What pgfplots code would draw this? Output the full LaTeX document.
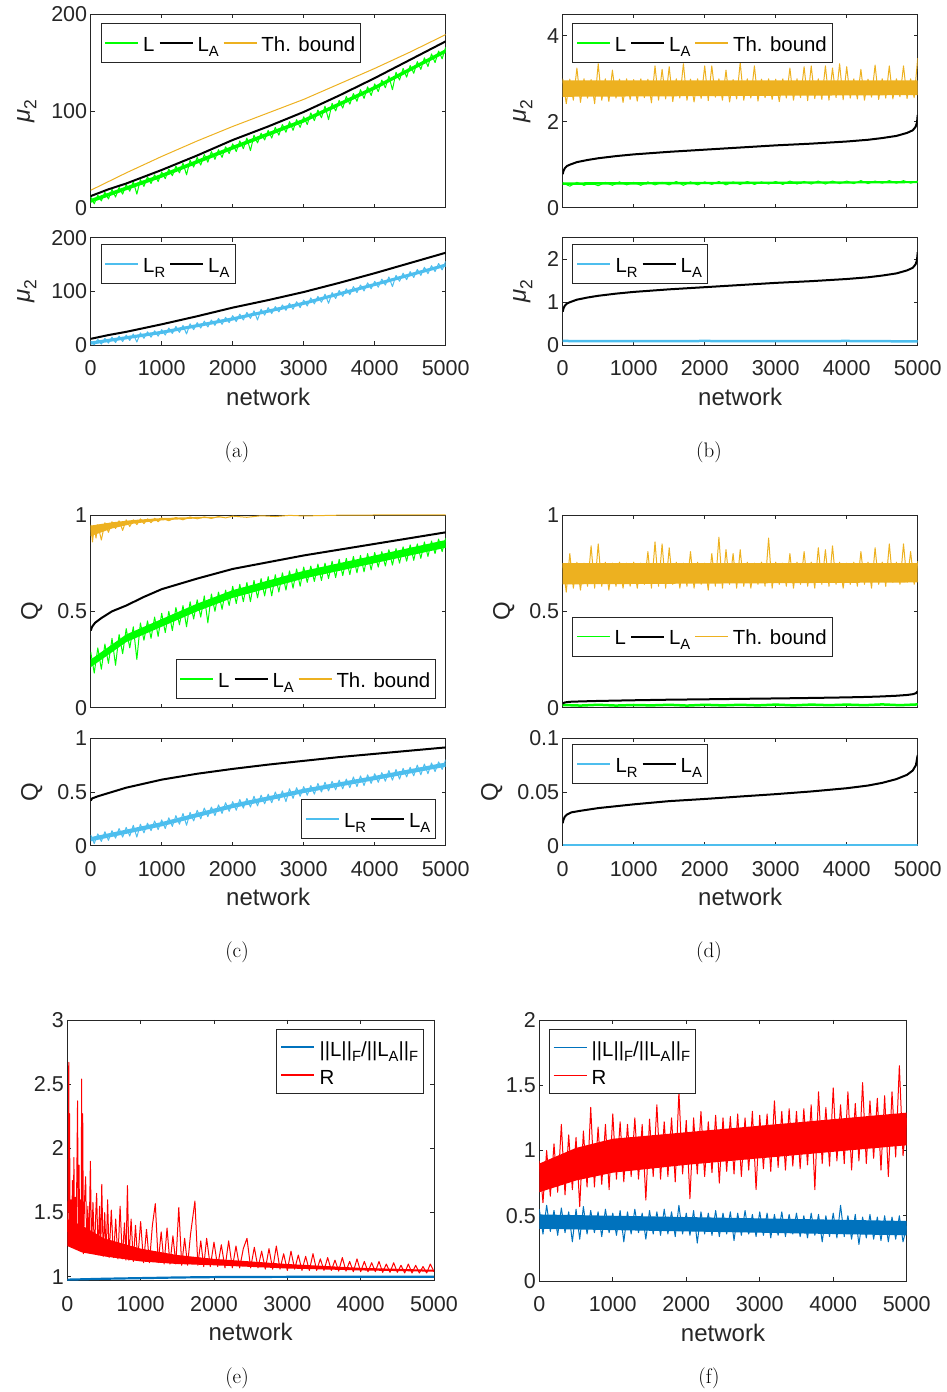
\documentclass[border=0pt]{standalone}
\usepackage{fontspec}
\newfontfamily\arial{Liberation Sans}
\usepackage{pgfplots}
\pgfplotsset{compat=1.18}
\definecolor{mgray}{rgb}{0.15,0.15,0.15}
\definecolor{mgreen}{rgb}{0,1,0}
\definecolor{morange}{rgb}{0.929,0.694,0.125}
\definecolor{mlblue}{rgb}{0.302,0.745,0.933}
\definecolor{mblue}{rgb}{0,0.447,0.741}
\definecolor{mred}{rgb}{1,0,0}
% MATLAB-like lowered subscripts
\newcommand{\lsub}[1]{\raisebox{-5.5pt}{\fontsize{14.8}{16}\selectfont #1}}
\newcommand{\ysub}[1]{\raisebox{-6.5pt}{\fontsize{17.5}{19}\selectfont #1}}
\pgfplotsset{
  mat/.style={
    scale only axis, xmin=0, xmax=5000,
    axis line style={draw=mgray, line width=0.7pt},
    every tick/.style={draw=mgray, line width=0.7pt},
    major tick length=4pt, tick align=inside,
    xtick={0,1000,2000,3000,4000,5000},
    xticklabels={},
    /pgf/number format/assume math mode=true,
    ticklabel style={font=\arial\fontsize{21.5}{24}\selectfont, text=mgray},
    xticklabel style={yshift=-12pt},
    label style={font=\arial\fontsize{24}{28}\selectfont, text=mgray},
    ylabel shift=8pt, xlabel shift=5pt,
    legend style={draw=mgray, line width=0.7pt, font=\arial\fontsize{20.4}{24}\selectfont, text=black,
      inner xsep=3.5pt, inner ysep=4.4pt, row sep=0pt,
      nodes={text height=21pt, text depth=5.2pt},
      /tikz/every odd column/.append style={column sep=2pt},
      /tikz/every even column/.append style={column sep=2pt}},
    legend cell align=left,
    legend image code/.code={\draw[#1] (0pt,0pt) -- (33pt,0pt);},
    every axis plot/.append style={line join=round},
  },
  thinline/.style={line width=1pt, legend image post style={line width=1.7pt}},
  xlab/.style={xticklabels={0,1000,2000,3000,4000,5000}, xlabel={network}},
  tworow/.style={legend columns=1, legend style={inner ysep=4pt, nodes={text height=21pt, text depth=3pt}}},
}
\begin{document}
\begin{tikzpicture}
\path (0pt,0pt) rectangle (946pt,1392pt);

% (a) top
\begin{axis}[mat, at={(90.7pt,1184.3pt)}, anchor=south west, width=355pt, height=193.4pt,
  ymin=0, ymax=200, ytick={0,100,200}, yticklabels={0,100,200},
  ylabel={\textit{μ}\ysub{2}}, legend columns=3,
  legend style={at={(0.028,0.953)}, anchor=north west}]
\addplot[forget plot, fill=mgreen, draw=none] coordinates {(0,5)(1000,31)(2000,60)(3000,88)(4000,122)(5000,160)(5000,164)(4000,126)(3000,92)(2000,64)(1000,35)(0,9)} -- cycle;
\addplot[draw=mgreen, thinline] coordinates {(0,11)(50,4)(100,13)(150,7)(200,16)(250,9)(300,19)(350,11)(400,21)(450,14)(500,24)(550,17)(600,27)(650,14)(700,29)(750,22)(800,32)(850,25)(900,34)(950,27)(1000,37)(1050,30)(1100,40)(1150,33)(1200,43)(1250,36)(1300,46)(1350,34)(1400,49)(1450,42)(1500,52)(1550,44)(1600,55)(1650,47)(1700,58)(1750,50)(1800,60)(1850,52)(1900,63)(1950,56)(2000,66)(2050,58)(2100,69)(2150,61)(2200,72)(2250,59)(2300,75)(2350,67)(2400,77)(2450,70)(2500,80)(2550,72)(2600,83)(2650,75)(2700,86)(2750,78)(2800,89)(2850,80)(2900,91)(2950,83)(3000,94)(3050,86)(3100,98)(3150,90)(3200,101)(3250,93)(3300,105)(3350,91)(3400,108)(3450,100)(3500,111)(3550,103)(3600,115)(3650,107)(3700,118)(3750,110)(3800,122)(3850,113)(3900,125)(3950,116)(4000,128)(4050,120)(4100,132)(4150,124)(4200,136)(4250,122)(4300,140)(4350,132)(4400,144)(4450,135)(4500,147)(4550,139)(4600,151)(4650,143)(4700,155)(4750,146)(4800,159)(4850,150)(4900,162)(4950,154)(5000,166)};
\addlegendentry{L}
\addplot[draw=black, line width=2pt] coordinates {(0,12)(250,19)(500,25)(1000,39)(1500,54)(2000,70)(2500,84)(3000,99)(3500,116)(4000,134)(4500,153)(5000,172)};
\addlegendentry{L\lsub{A}}
\addplot[draw=morange, thinline] coordinates {(0,18)(500,36)(1000,53)(1500,69)(2000,84)(2500,98)(3000,112)(3500,128)(4000,144)(4500,161)(5000,179)};
\addlegendentry{Th. bound}
\end{axis}

% (a) bottom
\begin{axis}[mat, xlab, at={(90.7pt,1046.7pt)}, anchor=south west, width=355pt, height=107.6pt,
  ymin=0, ymax=200, ytick={0,100,200}, yticklabels={0,100,200},
  ylabel={\textit{μ}\ysub{2}}, legend columns=3,
  legend style={at={(0.028,0.939)}, anchor=north west}]
\addplot[forget plot, fill=mlblue, draw=none] coordinates {(0,1)(1000,21)(2000,46)(3000,75)(4000,110)(5000,146)(5000,152)(4000,116)(3000,81)(2000,52)(1000,27)(0,7)} -- cycle;
\addplot[draw=mlblue, thinline] coordinates {(0,8)(50,1)(100,11)(150,2)(200,13)(250,4)(300,15)(350,5)(400,17)(450,7)(500,19)(550,9)(600,21)(650,6)(700,23)(750,13)(800,25)(850,15)(900,27)(950,17)(1000,29)(1050,19)(1100,32)(1150,22)(1200,35)(1250,24)(1300,37)(1350,21)(1400,40)(1450,29)(1500,42)(1550,32)(1600,45)(1650,34)(1700,47)(1750,37)(1800,50)(1850,39)(1900,52)(1950,42)(2000,55)(2050,44)(2100,58)(2150,47)(2200,61)(2250,50)(2300,64)(2350,47)(2400,67)(2450,56)(2500,70)(2550,59)(2600,72)(2650,62)(2700,75)(2750,65)(2800,78)(2850,67)(2900,81)(2950,70)(3000,84)(3050,73)(3100,88)(3150,77)(3200,91)(3250,80)(3300,95)(3350,78)(3400,98)(3450,87)(3500,102)(3550,91)(3600,105)(3650,94)(3700,109)(3750,98)(3800,112)(3850,101)(3900,116)(3950,105)(4000,119)(4050,108)(4100,123)(4150,112)(4200,127)(4250,109)(4300,130)(4350,119)(4400,134)(4450,122)(4500,137)(4550,126)(4600,141)(4650,130)(4700,145)(4750,133)(4800,148)(4850,137)(4900,152)(4950,140)(5000,156)};
\addlegendentry{L\lsub{R}}
\addplot[draw=black, line width=2pt] coordinates {(0,12)(250,19)(500,25)(1000,39)(1500,54)(2000,70)(2500,84)(3000,99)(3500,116)(4000,134)(4500,153)(5000,172)};
\addlegendentry{L\lsub{A}}
\end{axis}

% (b) top
\begin{axis}[mat, at={(562.7pt,1184.3pt)}, anchor=south west, width=355pt, height=193.4pt,
  ymin=0, ymax=4.5, ytick={0,2,4}, yticklabels={0,2,4},
  ylabel={\textit{μ}\ysub{2}}, legend columns=3,
  legend style={at={(0.027,0.953)}, anchor=north west}]
\addplot[forget plot, fill=morange, draw=none] coordinates {(0,2.58)(5000,2.62)(5000,2.96)(0,2.96)} -- cycle;
\addplot[forget plot, fill=mgreen, draw=none] coordinates {(0,0.53)(5000,0.57)(5000,0.62)(0,0.59)} -- cycle;
\addplot[draw=mgreen, thinline] coordinates {(0,0.58)(100,0.5)(200,0.59)(300,0.52)(400,0.58)(500,0.51)(600,0.59)(700,0.52)(800,0.6)(900,0.53)(1000,0.59)(1100,0.52)(1200,0.6)(1300,0.53)(1400,0.59)(1500,0.53)(1600,0.61)(1700,0.52)(1800,0.6)(1900,0.53)(2000,0.6)(2100,0.54)(2200,0.61)(2300,0.53)(2400,0.6)(2500,0.54)(2600,0.61)(2700,0.54)(2800,0.6)(2900,0.55)(3000,0.61)(3100,0.54)(3200,0.62)(3300,0.55)(3400,0.61)(3500,0.55)(3600,0.62)(3700,0.55)(3800,0.62)(3900,0.56)(4000,0.62)(4100,0.56)(4200,0.63)(4300,0.56)(4400,0.62)(4500,0.57)(4600,0.63)(4700,0.57)(4800,0.63)(4900,0.57)(5000,0.62)};
\addlegendentry{L}
\addplot[draw=black, line width=2pt] coordinates {(0,0.78)(10,0.85)(30,0.92)(60,0.97)(100,1.0)(200,1.06)(350,1.11)(500,1.15)(750,1.2)(1000,1.24)(1500,1.3)(2000,1.35)(2500,1.4)(3000,1.45)(3500,1.49)(4000,1.54)(4300,1.58)(4500,1.62)(4700,1.67)(4850,1.74)(4930,1.8)(4970,1.88)(4990,1.98)(5000,2.16)};
\addlegendentry{L\lsub{A}}
\addplot[draw=morange, thinline] coordinates {(0,3.0)(50,2.42)(100,2.99)(150,2.5)(200,3.25)(250,2.45)(300,3.0)(350,2.55)(400,2.98)(450,2.42)(500,3.35)(550,2.5)(600,3.0)(650,2.47)(700,3.2)(750,2.55)(800,2.99)(850,2.45)(900,3.0)(950,2.52)(1000,2.98)(1050,2.48)(1100,3.0)(1150,2.56)(1200,2.99)(1250,2.44)(1300,3.3)(1350,2.5)(1400,3.22)(1450,2.53)(1500,3.28)(1550,2.47)(1600,3.0)(1650,2.55)(1700,3.35)(1750,2.5)(1800,2.99)(1850,2.46)(1900,3.0)(1950,2.54)(2000,3.3)(2050,2.49)(2100,3.3)(2150,2.57)(2200,3.0)(2250,2.5)(2300,3.2)(2350,2.46)(2400,2.98)(2450,2.53)(2500,3.38)(2550,2.5)(2600,3.0)(2650,2.55)(2700,3.3)(2750,2.48)(2800,2.99)(2850,2.56)(2900,3.0)(2950,2.52)(3000,2.99)(3050,2.47)(3100,3.0)(3150,2.55)(3200,3.25)(3250,2.5)(3300,3.0)(3350,2.56)(3400,3.28)(3450,2.49)(3500,3.3)(3550,2.54)(3600,3.0)(3650,2.52)(3700,3.3)(3750,2.5)(3800,3.25)(3850,2.56)(3900,3.35)(3950,2.51)(4000,3.28)(4050,2.55)(4100,3.0)(4150,2.53)(4200,3.22)(4250,2.5)(4300,2.99)(4350,2.57)(4400,3.32)(4450,2.52)(4500,3.0)(4550,2.55)(4600,3.3)(4650,2.53)(4700,3.0)(4750,2.58)(4800,3.3)(4850,2.54)(4900,3.0)(4950,2.56)(5000,3.48)};
\addlegendentry{Th. bound}
\end{axis}

% (b) bottom
\begin{axis}[mat, xlab, at={(562.7pt,1046.7pt)}, anchor=south west, width=355pt, height=107.6pt,
  ymin=0, ymax=2.5, ytick={0,1,2}, yticklabels={0,1,2},
  ylabel={\textit{μ}\ysub{2}}, legend columns=3,
  legend style={at={(0.027,0.939)}, anchor=north west}]
\addplot[draw=mlblue, line width=2.5pt] coordinates {(0,0.1)(1000,0.095)(2000,0.1)(3000,0.095)(4000,0.1)(5000,0.09)};
\addlegendentry{L\lsub{R}}
\addplot[draw=black, line width=2pt] coordinates {(0,0.78)(10,0.85)(30,0.92)(60,0.97)(100,1.0)(200,1.06)(350,1.11)(500,1.15)(750,1.2)(1000,1.24)(1500,1.3)(2000,1.35)(2500,1.4)(3000,1.45)(3500,1.49)(4000,1.54)(4300,1.58)(4500,1.62)(4700,1.67)(4850,1.74)(4930,1.8)(4970,1.88)(4990,1.98)(5000,2.16)};
\addlegendentry{L\lsub{A}}
\end{axis}

% (c) top
\begin{axis}[mat, at={(90.7pt,684.3pt)}, anchor=south west, width=355pt, height=192.7pt,
  ymin=0, ymax=1, ytick={0,0.5,1}, yticklabels={0,0.5,1},
  ylabel={Q}, legend columns=3,
  legend style={at={(0.973,0.045)}, anchor=south east}]
\addplot[forget plot, fill=mgreen, draw=none] coordinates {(0,0.21)(500,0.34)(1000,0.42)(1500,0.50)(2000,0.57)(2500,0.62)(3000,0.67)(3500,0.71)(4000,0.75)(4500,0.79)(5000,0.83)(5000,0.87)(4500,0.83)(4000,0.79)(3500,0.75)(3000,0.71)(2500,0.66)(2000,0.61)(1500,0.54)(1000,0.46)(500,0.38)(0,0.25)} -- cycle;
\addplot[forget plot, fill=morange, draw=none] coordinates {(0,0.89)(300,0.93)(600,0.955)(1000,0.972)(1500,0.982)(2000,0.99)(1500,0.99)(1000,0.984)(600,0.974)(300,0.962)(0,0.945)} -- cycle;
\addplot[draw=mgreen, thinline] coordinates {(0,0.29)(50,0.18)(100,0.31)(150,0.20)(200,0.33)(250,0.23)(300,0.36)(350,0.22)(400,0.38)(450,0.28)(500,0.41)(550,0.31)(600,0.42)(650,0.25)(700,0.44)(750,0.35)(800,0.45)(850,0.36)(900,0.47)(950,0.37)(1000,0.49)(1050,0.39)(1100,0.50)(1150,0.40)(1200,0.52)(1250,0.43)(1300,0.53)(1350,0.42)(1400,0.55)(1450,0.46)(1500,0.56)(1550,0.47)(1600,0.58)(1650,0.44)(1700,0.59)(1750,0.50)(1800,0.60)(1850,0.51)(1900,0.61)(1950,0.53)(2000,0.63)(2050,0.54)(2100,0.64)(2150,0.55)(2200,0.65)(2250,0.55)(2300,0.66)(2350,0.57)(2400,0.67)(2450,0.58)(2500,0.68)(2550,0.58)(2600,0.69)(2650,0.60)(2700,0.70)(2750,0.61)(2800,0.71)(2850,0.62)(2900,0.72)(2950,0.63)(3000,0.73)(3050,0.65)(3100,0.735)(3150,0.655)(3200,0.745)(3250,0.66)(3300,0.75)(3350,0.67)(3400,0.76)(3450,0.675)(3500,0.77)(3550,0.685)(3600,0.775)(3650,0.69)(3700,0.785)(3750,0.70)(3800,0.79)(3850,0.705)(3900,0.80)(3950,0.715)(4000,0.805)(4050,0.73)(4100,0.81)(4150,0.735)(4200,0.82)(4250,0.74)(4300,0.825)(4350,0.75)(4400,0.835)(4450,0.76)(4500,0.845)(4550,0.765)(4600,0.85)(4650,0.775)(4700,0.86)(4750,0.785)(4800,0.865)(4850,0.8)(4900,0.875)(4950,0.81)(5000,0.88)};
\addlegendentry{L}
\addplot[draw=black, line width=2pt] coordinates {(0,0.40)(20,0.42)(60,0.44)(150,0.465)(300,0.50)(500,0.53)(750,0.575)(1000,0.615)(1500,0.67)(2000,0.72)(2500,0.755)(3000,0.79)(3500,0.82)(4000,0.85)(4500,0.88)(5000,0.91)};
\addlegendentry{L\lsub{A}}
\addplot[draw=morange, thinline] coordinates {(0,0.95)(25,0.86)(50,0.94)(75,0.88)(100,0.95)(150,0.87)(200,0.96)(250,0.91)(300,0.965)(350,0.93)(400,0.97)(450,0.92)(500,0.975)(550,0.94)(600,0.975)(650,0.95)(700,0.98)(750,0.955)(800,0.98)(850,0.96)(900,0.983)(950,0.965)(1000,0.985)(1100,0.97)(1200,0.987)(1300,0.975)(1400,0.99)(1500,0.98)(1600,0.99)(1700,0.982)(1800,0.992)(1900,0.985)(2000,0.994)(2200,0.988)(2400,0.996)(2600,0.992)(2800,0.998)(3000,0.995)(3500,0.999)(4000,1)(5000,1)};
\addlegendentry{Th. bound}
\end{axis}

% (c) bottom
\begin{axis}[mat, xlab, at={(90.7pt,546.3pt)}, anchor=south west, width=355pt, height=107.4pt,
  ymin=0, ymax=1, ytick={0,0.5,1}, yticklabels={0,0.5,1},
  ylabel={Q}, legend columns=3,
  legend style={at={(0.973,0.0624)}, anchor=south east}]
\addplot[forget plot, fill=mlblue, draw=none] coordinates {(0,0.04)(1000,0.18)(2000,0.35)(3000,0.49)(4000,0.61)(5000,0.735)(5000,0.775)(4000,0.65)(3000,0.53)(2000,0.39)(1000,0.22)(0,0.08)} -- cycle;
\addplot[draw=mlblue, thinline] coordinates {(0,0.10)(50,0.02)(100,0.11)(150,0.04)(200,0.13)(250,0.05)(300,0.14)(350,0.07)(400,0.16)(450,0.08)(500,0.17)(550,0.09)(600,0.19)(650,0.08)(700,0.20)(750,0.12)(800,0.21)(850,0.14)(900,0.23)(950,0.15)(1000,0.24)(1050,0.16)(1100,0.26)(1150,0.18)(1200,0.28)(1250,0.20)(1300,0.30)(1350,0.19)(1400,0.31)(1450,0.23)(1500,0.33)(1550,0.25)(1600,0.35)(1650,0.27)(1700,0.36)(1750,0.28)(1800,0.38)(1850,0.30)(1900,0.40)(1950,0.32)(2000,0.41)(2050,0.33)(2100,0.43)(2150,0.35)(2200,0.44)(2250,0.36)(2300,0.46)(2350,0.37)(2400,0.47)(2450,0.39)(2500,0.48)(2550,0.40)(2600,0.50)(2650,0.42)(2700,0.51)(2750,0.41)(2800,0.53)(2850,0.44)(2900,0.54)(2950,0.46)(3000,0.55)(3050,0.47)(3100,0.56)(3150,0.48)(3200,0.58)(3250,0.50)(3300,0.59)(3350,0.51)(3400,0.60)(3450,0.52)(3500,0.61)(3550,0.53)(3600,0.62)(3650,0.54)(3700,0.64)(3750,0.55)(3800,0.65)(3850,0.56)(3900,0.66)(3950,0.58)(4000,0.67)(4050,0.59)(4100,0.68)(4150,0.60)(4200,0.70)(4250,0.61)(4300,0.71)(4350,0.62)(4400,0.72)(4450,0.64)(4500,0.73)(4550,0.65)(4600,0.75)(4650,0.66)(4700,0.76)(4750,0.67)(4800,0.77)(4850,0.69)(4900,0.78)(4950,0.71)(5000,0.80)};
\addlegendentry{L\lsub{R}}
\addplot[draw=black, line width=2pt] coordinates {(0,0.42)(20,0.44)(100,0.46)(300,0.50)(500,0.54)(1000,0.615)(1500,0.67)(2000,0.715)(2500,0.755)(3000,0.79)(3500,0.825)(4000,0.855)(4500,0.885)(5000,0.915)};
\addlegendentry{L\lsub{A}}
\end{axis}

% (d) top
\begin{axis}[mat, at={(562.7pt,684.3pt)}, anchor=south west, width=355pt, height=192.7pt,
  ymin=0, ymax=1, ytick={0,0.5,1}, yticklabels={0,0.5,1},
  ylabel={Q}, legend columns=3,
  legend style={at={(0.0265,0.472)}, anchor=north west}]
\addplot[forget plot, fill=morange, draw=none] coordinates {(0,0.64)(5000,0.65)(5000,0.75)(0,0.75)} -- cycle;
\addplot[draw=mgreen, line width=2.5pt, legend image post style={line width=1.7pt}] coordinates {(0,0.014)(250,0.011)(500,0.015)(750,0.011)(1000,0.014)(1250,0.012)(1500,0.015)(1750,0.011)(2000,0.015)(2250,0.012)(2500,0.015)(2750,0.012)(3000,0.016)(3250,0.012)(3500,0.016)(3750,0.013)(4000,0.016)(4250,0.013)(4500,0.017)(4750,0.013)(5000,0.017)};
\addlegendentry{L}
\addplot[draw=black, line width=2pt] coordinates {(0,0.021)(10,0.024)(30,0.027)(60,0.029)(120,0.031)(250,0.0325)(500,0.035)(1000,0.0385)(1500,0.0415)(2000,0.0435)(2500,0.0458)(3000,0.048)(3500,0.0505)(4000,0.0535)(4300,0.056)(4500,0.0585)(4700,0.062)(4850,0.066)(4930,0.07)(4975,0.075)(5000,0.0845)};
\addlegendentry{L\lsub{A}}
\addplot[draw=morange, thinline] coordinates {(0,0.75)(50,0.6)(100,0.80)(150,0.62)(200,0.755)(250,0.61)(300,0.75)(350,0.63)(400,0.84)(450,0.62)(500,0.85)(550,0.63)(600,0.755)(650,0.61)(700,0.75)(750,0.63)(800,0.755)(850,0.62)(900,0.75)(950,0.63)(1000,0.755)(1050,0.62)(1100,0.75)(1150,0.64)(1200,0.81)(1250,0.62)(1300,0.86)(1350,0.63)(1400,0.85)(1450,0.62)(1500,0.83)(1550,0.64)(1600,0.755)(1650,0.62)(1700,0.75)(1750,0.63)(1800,0.81)(1850,0.62)(1900,0.755)(1950,0.64)(2000,0.75)(2050,0.61)(2100,0.80)(2150,0.63)(2200,0.885)(2250,0.62)(2300,0.82)(2350,0.64)(2400,0.80)(2450,0.62)(2500,0.82)(2550,0.63)(2600,0.755)(2650,0.62)(2700,0.75)(2750,0.64)(2800,0.755)(2850,0.63)(2900,0.88)(2950,0.62)(3000,0.755)(3050,0.64)(3100,0.75)(3150,0.63)(3200,0.80)(3250,0.62)(3300,0.755)(3350,0.64)(3400,0.81)(3450,0.63)(3500,0.755)(3550,0.62)(3600,0.83)(3650,0.64)(3700,0.82)(3750,0.63)(3800,0.84)(3850,0.64)(3900,0.755)(3950,0.62)(4000,0.75)(4050,0.64)(4100,0.755)(4150,0.63)(4200,0.81)(4250,0.64)(4300,0.755)(4350,0.62)(4400,0.83)(4450,0.64)(4500,0.755)(4550,0.63)(4600,0.85)(4650,0.65)(4700,0.755)(4750,0.64)(4800,0.85)(4850,0.65)(4900,0.81)(4950,0.64)(5000,0.76)};
\addlegendentry{Th. bound}
\end{axis}

% (d) bottom
\begin{axis}[mat, xlab, at={(562.7pt,546.3pt)}, anchor=south west, width=355pt, height=107.4pt,
  ymin=0, ymax=0.1, ytick={0,0.05,0.1}, yticklabels={0,0.05,0.1},
  ylabel={Q}, legend columns=3,
  legend style={at={(0.027,0.944)}, anchor=north west}]
\addplot[draw=mlblue, line width=2.5pt] coordinates {(0,0.0006)(2500,0.0006)(5000,0.0006)};
\addlegendentry{L\lsub{R}}
\addplot[draw=black, line width=2pt] coordinates {(0,0.021)(10,0.024)(30,0.027)(60,0.029)(120,0.031)(250,0.0325)(500,0.035)(1000,0.0385)(1500,0.0415)(2000,0.0435)(2500,0.0458)(3000,0.048)(3500,0.0505)(4000,0.0535)(4300,0.056)(4500,0.0585)(4700,0.062)(4850,0.066)(4930,0.07)(4975,0.075)(5000,0.0845)};
\addlegendentry{L\lsub{A}}
\end{axis}

% (e)
\begin{axis}[mat, xlab, tworow, at={(67.3pt,111.3pt)}, anchor=south west, width=366.7pt, height=260.7pt,
  ymin=0.97, ymax=3, ytick={1,1.5,2,2.5,3}, yticklabels={1,1.5,2,2.5,3},
  legend style={at={(0.973,0.9655)}, anchor=north east}]
\addplot[forget plot, fill=mred, draw=none] coordinates {(0,1.24)(200,1.19)(500,1.16)(1000,1.12)(1500,1.1)(2000,1.09)(3000,1.065)(4000,1.05)(5000,1.04)(5000,1.055)(4000,1.07)(3000,1.1)(2000,1.14)(1500,1.17)(1000,1.22)(500,1.3)(200,1.4)(0,1.45)} -- cycle;
\addplot[draw=mblue, line width=2.2pt] coordinates {(0,0.978)(500,0.985)(1000,0.99)(1500,0.995)(2000,0.998)(3000,1.0)(5000,1.0)};
\addlegendentry{||L||\lsub{F}/||L\lsub{A}||\lsub{F}}
\addplot[draw=mred, thinline] coordinates {(0,1.35)(10,1.6)(20,2.67)(25,1.3)(30,2.27)(40,1.25)(50,1.6)(60,1.28)(70,1.75)(80,1.27)(90,1.93)(100,1.25)(110,1.62)(120,1.24)(130,1.8)(140,2.37)(150,1.22)(160,1.87)(170,1.24)(180,1.6)(190,1.2)(195,2.54)(200,1.3)(210,2.27)(220,1.18)(235,1.6)(250,1.78)(265,1.2)(280,1.55)(295,1.19)(315,1.9)(330,1.2)(350,1.58)(370,1.18)(390,1.52)(400,1.65)(420,1.17)(440,1.55)(455,1.17)(470,1.72)(490,1.16)(510,1.5)(530,1.16)(550,1.6)(570,1.15)(600,1.52)(630,1.15)(660,1.45)(690,1.14)(720,1.55)(750,1.14)(780,1.42)(800,1.13)(820,1.71)(840,1.13)(870,1.45)(900,1.12)(930,1.4)(960,1.13)(1000,1.43)(1040,1.11)(1080,1.37)(1120,1.11)(1160,1.4)(1200,1.57)(1240,1.11)(1280,1.35)(1320,1.1)(1360,1.38)(1400,1.1)(1440,1.32)(1480,1.1)(1520,1.54)(1560,1.09)(1600,1.3)(1640,1.09)(1680,1.33)(1740,1.59)(1780,1.09)(1820,1.28)(1860,1.08)(1900,1.3)(1950,1.08)(2000,1.27)(2050,1.08)(2100,1.25)(2150,1.07)(2200,1.28)(2250,1.07)(2300,1.24)(2350,1.07)(2400,1.22)(2450,1.3)(2500,1.07)(2550,1.23)(2600,1.07)(2650,1.2)(2700,1.06)(2750,1.22)(2800,1.06)(2850,1.24)(2900,1.06)(2950,1.18)(3000,1.05)(3050,1.2)(3100,1.06)(3150,1.17)(3200,1.05)(3250,1.16)(3300,1.05)(3350,1.18)(3400,1.05)(3450,1.14)(3500,1.05)(3550,1.15)(3600,1.05)(3650,1.13)(3700,1.045)(3750,1.15)(3800,1.045)(3850,1.12)(3900,1.04)(3950,1.14)(4000,1.04)(4050,1.12)(4100,1.04)(4150,1.11)(4200,1.04)(4250,1.12)(4300,1.035)(4350,1.1)(4400,1.035)(4450,1.11)(4500,1.035)(4550,1.09)(4600,1.03)(4650,1.1)(4700,1.03)(4750,1.09)(4800,1.03)(4850,1.08)(4900,1.03)(4950,1.1)(5000,1.04)};
\addlegendentry{R}
\end{axis}

% (f)
\begin{axis}[mat, xlab, tworow, at={(539.3pt,111pt)}, anchor=south west, width=367.4pt, height=261pt,
  ymin=0, ymax=2, ytick={0,0.5,1,1.5,2}, yticklabels={0,0.5,1,1.5,2},
  legend style={at={(0.0264,0.9655)}, anchor=north west}]
\addplot[forget plot, fill=mblue, draw=none] coordinates {(0,0.40)(5000,0.35)(5000,0.46)(0,0.51)} -- cycle;
\addplot[forget plot, fill=mred, draw=none] coordinates {(0,0.68)(500,0.77)(1000,0.83)(2000,0.89)(3000,0.94)(4000,0.99)(5000,1.04)(5000,1.29)(4000,1.24)(3000,1.19)(2000,1.14)(1000,1.09)(500,1.02)(0,0.9)} -- cycle;
\addplot[forget plot, draw=mblue, line width=1pt] coordinates {(0,0.55)(50,0.36)(100,0.58)(150,0.38)(200,0.54)(250,0.35)(300,0.56)(350,0.37)(400,0.53)(450,0.3)(500,0.55)(550,0.32)(600,0.57)(650,0.36)(700,0.54)(750,0.37)(800,0.53)(850,0.34)(900,0.55)(950,0.37)(1000,0.52)(1050,0.35)(1100,0.54)(1150,0.3)(1200,0.53)(1250,0.36)(1300,0.55)(1350,0.37)(1400,0.52)(1450,0.32)(1500,0.54)(1550,0.36)(1600,0.53)(1650,0.35)(1700,0.55)(1750,0.36)(1800,0.53)(1850,0.34)(1900,0.58)(1950,0.36)(2000,0.52)(2050,0.35)(2100,0.54)(2150,0.29)(2200,0.53)(2250,0.36)(2300,0.52)(2350,0.35)(2400,0.54)(2450,0.34)(2500,0.52)(2550,0.36)(2600,0.53)(2650,0.31)(2700,0.52)(2750,0.35)(2800,0.54)(2850,0.36)(2900,0.51)(2950,0.34)(3000,0.53)(3050,0.35)(3100,0.52)(3150,0.33)(3200,0.51)(3250,0.35)(3300,0.53)(3350,0.34)(3400,0.51)(3450,0.36)(3500,0.52)(3550,0.34)(3600,0.5)(3650,0.33)(3700,0.52)(3750,0.35)(3800,0.51)(3850,0.30)(3900,0.5)(3950,0.34)(4000,0.52)(4050,0.33)(4100,0.58)(4150,0.34)(4200,0.5)(4250,0.32)(4300,0.51)(4350,0.28)(4400,0.49)(4450,0.33)(4500,0.51)(4550,0.32)(4600,0.49)(4650,0.31)(4700,0.5)(4750,0.3)(4800,0.49)(4850,0.32)(4900,0.5)(4950,0.3)(5000,0.42)};
\addplot[forget plot, draw=mred, line width=1pt] coordinates {(0,0.92)(50,0.6)(100,1.0)(150,0.65)(200,1.05)(250,0.68)(300,1.2)(350,0.66)(400,1.12)(450,0.7)(500,1.1)(550,0.57)(600,1.15)(650,0.72)(700,1.33)(750,0.72)(800,1.18)(850,0.74)(900,1.2)(950,0.7)(1000,1.28)(1050,0.78)(1100,1.22)(1150,0.76)(1200,1.2)(1250,0.8)(1300,1.25)(1350,0.78)(1400,1.2)(1450,0.62)(1500,1.24)(1550,0.8)(1600,1.35)(1650,0.78)(1700,1.22)(1750,0.8)(1800,1.25)(1850,0.76)(1900,1.45)(1950,0.82)(2000,1.23)(2050,0.63)(2100,1.25)(2150,0.82)(2200,1.3)(2250,0.8)(2300,1.22)(2350,0.83)(2400,1.27)(2450,0.75)(2500,1.25)(2550,0.84)(2600,1.26)(2650,0.82)(2700,1.28)(2750,0.8)(2800,1.25)(2850,0.85)(2900,1.3)(2950,0.7)(3000,1.27)(3050,0.86)(3100,1.28)(3150,0.84)(3200,1.38)(3250,0.87)(3300,1.3)(3350,0.85)(3400,1.32)(3450,0.88)(3500,1.3)(3550,0.86)(3600,1.32)(3650,0.89)(3700,1.35)(3750,0.7)(3800,1.45)(3850,0.9)(3900,1.33)(3950,0.88)(4000,1.48)(4050,0.92)(4100,1.35)(4150,0.9)(4200,1.45)(4250,0.85)(4300,1.36)(4350,0.92)(4400,1.52)(4450,0.9)(4500,1.38)(4550,0.94)(4600,1.4)(4650,0.85)(4700,1.42)(4750,0.8)(4800,1.45)(4850,0.95)(4900,1.65)(4950,0.96)(5000,1.25)};
\addlegendimage{draw=mblue, line width=1.7pt}
\addlegendentry{||L||\lsub{F}/||L\lsub{A}||\lsub{F}}
\addlegendimage{draw=mred, line width=1.7pt}
\addlegendentry{R}
\end{axis}

\node[font=\fontsize{21}{24}\selectfont] at (237pt,940pt) {(a)};
\node[font=\fontsize{21}{24}\selectfont] at (709pt,940pt) {(b)};
\node[font=\fontsize{21}{24}\selectfont] at (237pt,440pt) {(c)};
\node[font=\fontsize{21}{24}\selectfont] at (709pt,440pt) {(d)};
\node[font=\fontsize{21}{24}\selectfont] at (237pt,14pt) {(e)};
\node[font=\fontsize{21}{24}\selectfont] at (709pt,14pt) {(f)};
\end{tikzpicture}
\end{document}
